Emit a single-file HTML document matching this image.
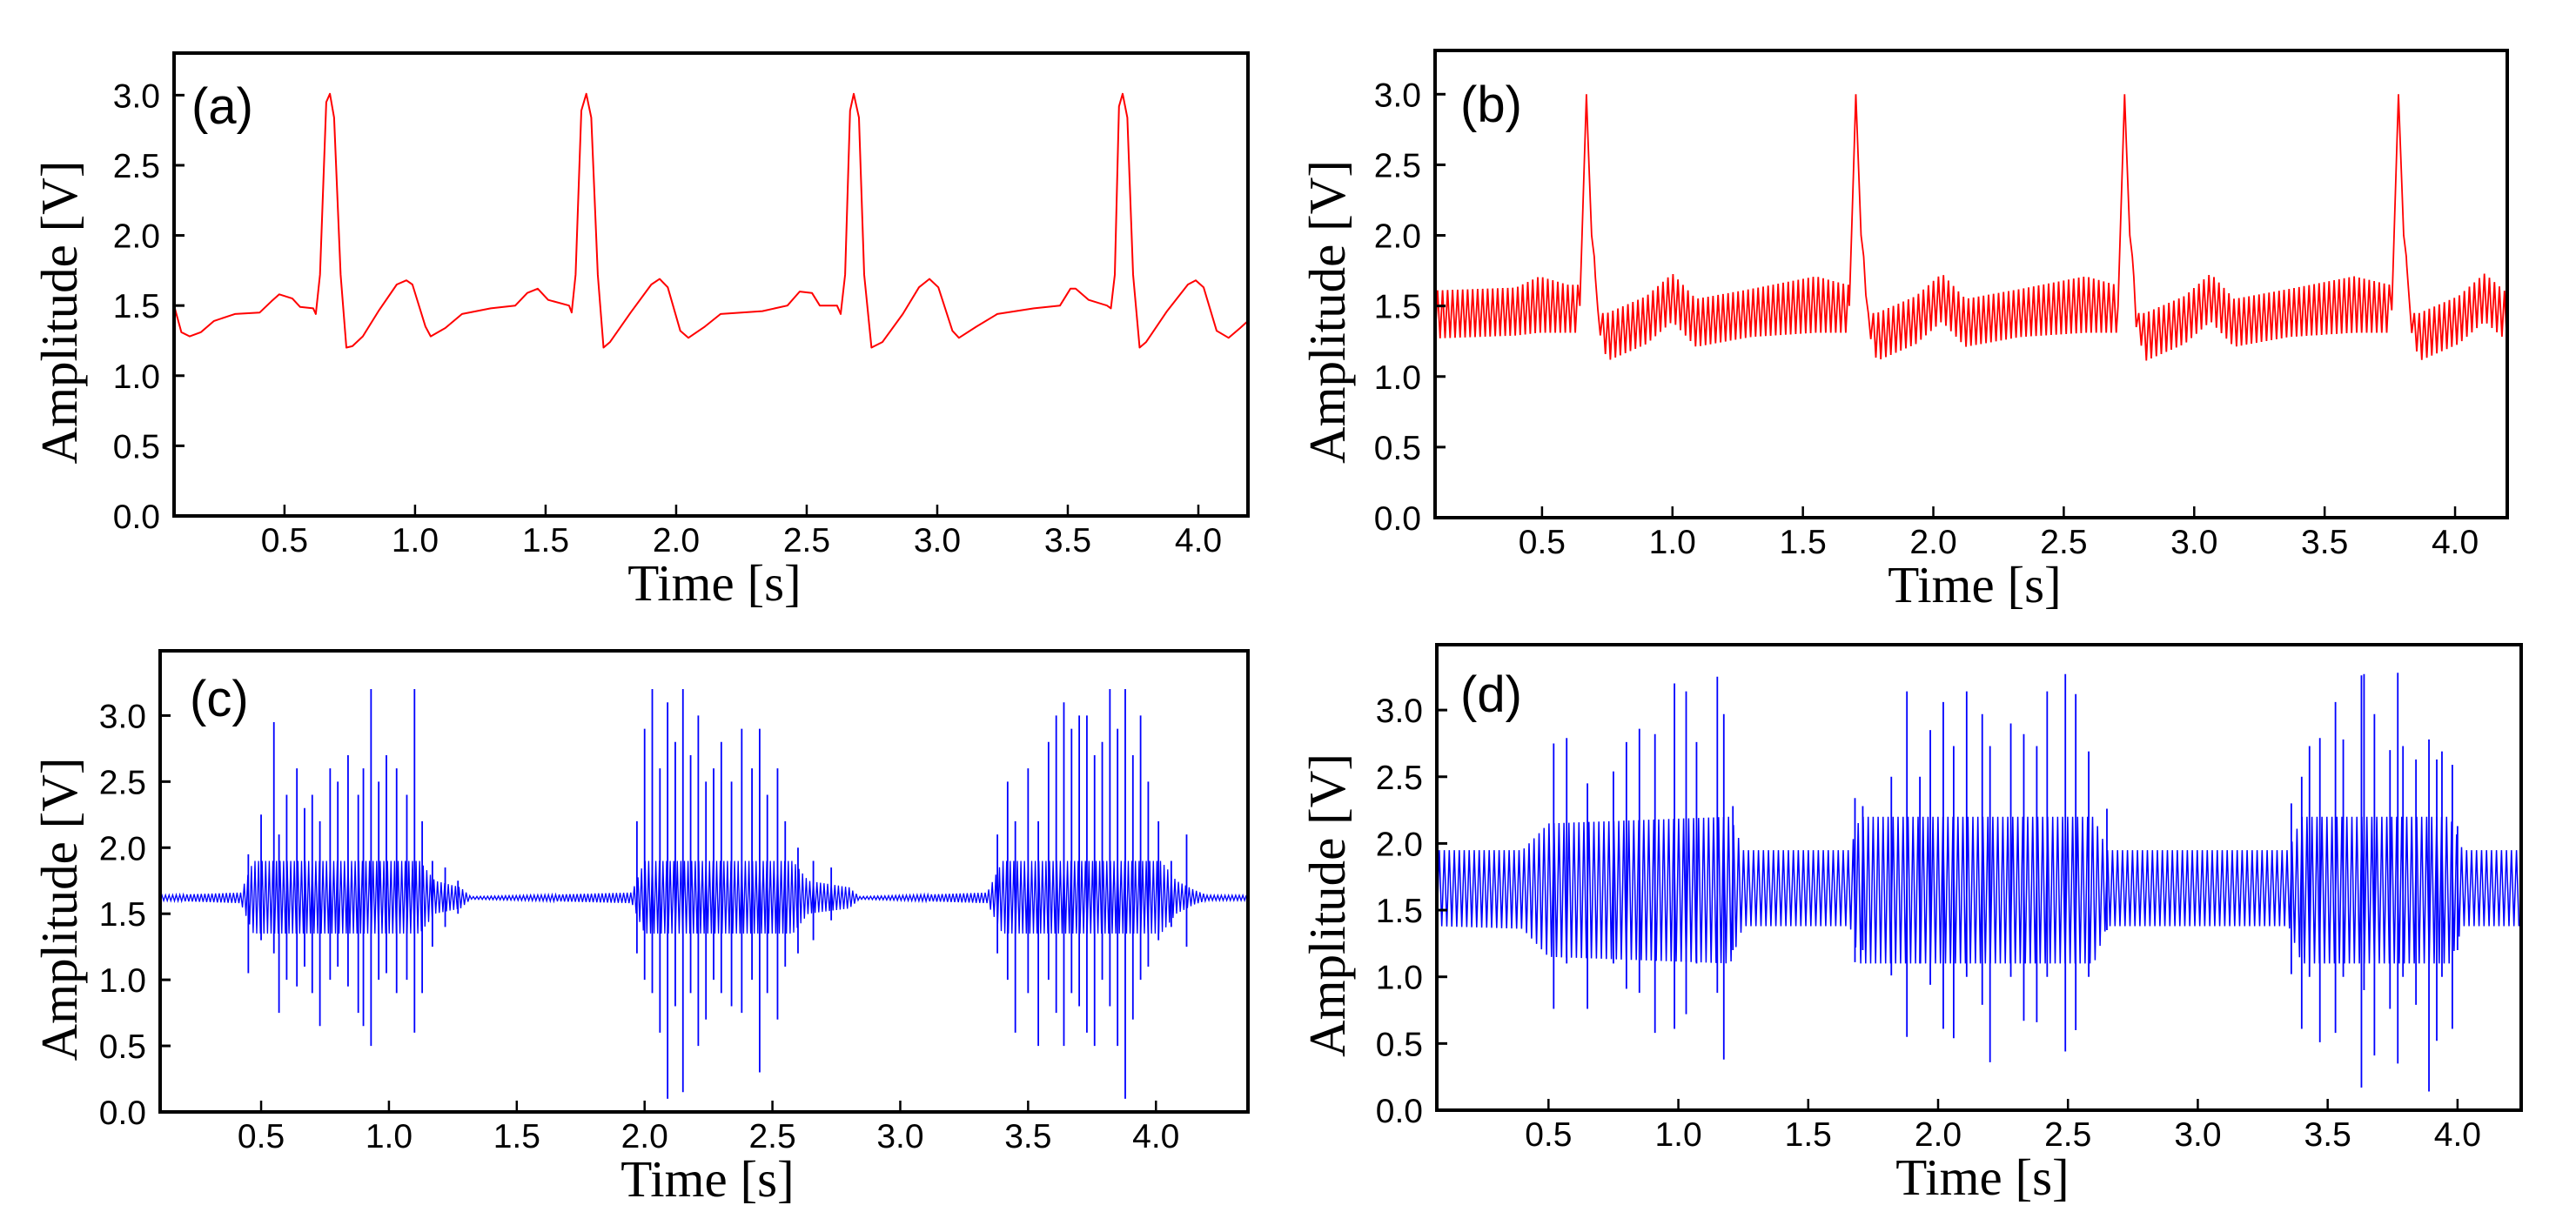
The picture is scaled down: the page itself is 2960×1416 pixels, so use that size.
<!DOCTYPE html>
<html><head><meta charset="utf-8"><style>
html,body{margin:0;padding:0;background:#fff;}
svg{display:block;}
.tick{font-family:"Liberation Sans","DejaVu Sans",sans-serif;font-size:39px;fill:#000;}
.ttl{font-family:"Liberation Serif","DejaVu Serif",serif;font-size:59px;fill:#000;}
.plab{font-family:"Liberation Sans","DejaVu Sans",sans-serif;font-size:58px;fill:#000;}
</style></head><body>
<svg id="fig" xmlns="http://www.w3.org/2000/svg" width="2960" height="1416" viewBox="0 0 2960 1416"></svg>
<script>
// ---------- Panel (a): clean ECG ----------
const aT=[0.077,0.105,0.137,0.18,0.23,0.31,0.405,0.45,0.48,0.53,0.56,0.61,0.62,0.636,0.66,0.674,0.69,0.715,0.737,0.76,0.80,0.86,0.93,0.967,0.99,1.04,1.06,1.116,1.18,1.29,1.384,1.43,1.47,1.51,1.59,1.60,1.615,1.637,1.656,1.675,1.70,1.722,1.747,1.826,1.905,1.937,1.968,2.016,2.047,2.11,2.17,2.33,2.426,2.473,2.52,2.55,2.616,2.63,2.647,2.666,2.68,2.70,2.72,2.748,2.79,2.868,2.93,2.97,3.004,3.058,3.083,3.15,3.23,3.37,3.47,3.51,3.53,3.58,3.65,3.665,3.68,3.696,3.71,3.728,3.75,3.775,3.80,3.88,3.96,3.99,4.02,4.07,4.116,4.16,4.19];
const aV=[1.5,1.31,1.28,1.31,1.39,1.44,1.45,1.53,1.58,1.55,1.49,1.48,1.44,1.72,2.95,3.01,2.84,1.72,1.20,1.21,1.28,1.46,1.65,1.68,1.65,1.35,1.28,1.34,1.44,1.48,1.50,1.59,1.62,1.54,1.50,1.45,1.72,2.89,3.01,2.84,1.72,1.20,1.24,1.45,1.65,1.69,1.63,1.32,1.27,1.35,1.44,1.46,1.50,1.60,1.59,1.50,1.50,1.44,1.72,2.89,3.01,2.84,1.72,1.20,1.24,1.44,1.63,1.69,1.63,1.32,1.27,1.35,1.44,1.48,1.50,1.62,1.62,1.54,1.50,1.48,1.72,2.92,3.01,2.84,1.72,1.20,1.24,1.46,1.65,1.68,1.63,1.32,1.27,1.34,1.39];

// ---------- Panel (b): ECG + power-line interference (centre + half-amplitude) ----------
const bT=[0.09,0.40,0.49,0.60,0.64,0.645,0.67,0.69,0.70,0.715,0.75,0.90,1.00,1.09,1.30,1.55,1.67,
 1.675,1.678,1.703,1.723,1.733,1.748,1.783,1.933,2.033,2.123,2.333,2.583,2.70,
 2.703,2.708,2.733,2.753,2.763,2.778,2.813,2.963,3.063,3.153,3.363,3.613,3.75,
 3.753,3.758,3.783,3.803,3.813,3.828,3.863,4.013,4.113,4.20];
const bC=[1.44,1.46,1.51,1.48,1.48,1.5,3.0,2.0,1.85,1.4,1.28,1.40,1.56,1.38,1.45,1.51,1.48,
 1.48,1.5,3.0,2.0,1.85,1.4,1.28,1.40,1.56,1.38,1.45,1.51,1.48,
 1.48,1.5,3.0,2.0,1.85,1.4,1.28,1.40,1.56,1.38,1.45,1.51,1.48,
 1.48,1.5,3.0,2.0,1.85,1.4,1.28,1.40,1.56,1.42];
const bH=[0.17,0.17,0.2,0.17,0.17,0,0,0,0,0.05,0.17,0.17,0.17,0.17,0.17,0.2,0.17,
 0.17,0,0,0,0,0.05,0.17,0.17,0.17,0.17,0.17,0.2,0.17,
 0.17,0,0,0,0,0.05,0.17,0.17,0.17,0.17,0.17,0.2,0.17,
 0.17,0,0,0,0,0.05,0.17,0.17,0.17,0.17];

// ---------- Panel (c): clean EMG ----------
const cEnvT=[0.105,0.42,0.47,1.12,1.18,1.28,1.32,1.95,2.0,2.58,2.64,2.8,2.84,3.34,3.40,4.02,4.08,4.15,4.20,4.36];
const cEnvHi=[1.64,1.66,1.9,1.9,1.75,1.70,1.63,1.66,1.9,1.9,1.75,1.70,1.63,1.66,1.9,1.9,1.75,1.68,1.64,1.64];
const cEnvLo=[1.60,1.58,1.35,1.35,1.5,1.54,1.61,1.58,1.35,1.35,1.5,1.54,1.61,1.58,1.35,1.35,1.5,1.57,1.60,1.60];
const cSpikeT=[0.45,0.50,0.55,0.57,0.60,0.64,0.67,0.70,0.73,0.77,0.80,0.84,0.88,0.90,0.93,0.96,0.99,1.03,1.07,1.10,1.13,1.17,1.22,1.27,
 1.97,2.00,2.03,2.06,2.09,2.12,2.15,2.18,2.21,2.24,2.27,2.30,2.34,2.38,2.42,2.45,2.48,2.52,2.55,2.60,2.66,2.73,
 3.38,3.42,3.45,3.50,3.54,3.58,3.61,3.64,3.67,3.70,3.73,3.76,3.79,3.82,3.85,3.88,3.91,3.94,3.97,4.01,4.06,4.12];
const cSpikeHi=[1.95,2.25,2.95,2.1,2.4,2.6,2.3,2.4,2.2,2.6,2.5,2.7,2.4,2.6,3.2,2.5,2.7,2.6,2.4,3.2,2.2,1.9,1.85,1.75,
 2.2,2.9,3.2,2.6,3.1,2.8,3.2,2.7,3.0,2.5,2.6,2.8,2.5,2.9,2.6,2.9,2.4,2.6,2.2,2.0,1.9,1.85,
 2.1,2.5,2.2,2.6,2.2,2.8,3.0,3.1,2.9,3.0,3.0,2.7,2.8,3.2,2.9,3.2,2.7,3.0,2.5,2.2,1.9,2.1];
const cSpikeLo=[1.05,1.3,1.2,0.75,1.0,0.95,1.1,0.9,0.65,1.0,1.1,0.95,0.75,0.65,0.5,1.0,1.05,0.9,1.0,0.6,0.9,1.25,1.4,1.5,
 1.2,1.0,0.9,0.6,0.1,0.8,0.15,0.9,0.5,0.7,1.0,0.9,0.8,0.75,1.0,0.3,0.9,0.7,1.1,1.2,1.3,1.45,
 1.2,1.0,0.6,0.9,0.5,1.0,0.75,0.5,0.9,0.8,0.6,0.5,1.0,0.8,0.5,0.1,0.7,1.0,1.1,1.3,1.4,1.25];

// ---------- Panel (d): EMG + interference ----------
const dEnvT=[0.07,0.40,0.50,1.20,1.25,1.66,1.70,2.60,2.65,3.35,3.40,3.97,4.02,4.245];
const dEnvHi=[1.95,1.95,2.15,2.2,1.95,1.95,2.2,2.2,1.95,1.95,2.2,2.2,1.95,1.95];
const dEnvLo=[1.38,1.36,1.15,1.1,1.38,1.38,1.1,1.1,1.38,1.38,1.1,1.1,1.38,1.38];
const dSpikeT=[0.52,0.57,0.65,0.75,0.80,0.85,0.91,0.985,1.03,1.07,1.15,1.175,1.21,
 1.68,1.71,1.82,1.88,1.93,1.97,2.02,2.06,2.11,2.17,2.20,2.28,2.33,2.38,2.42,2.49,2.53,2.58,2.65,
 3.36,3.40,3.43,3.47,3.53,3.56,3.63,3.64,3.68,3.74,3.77,3.79,3.84,3.89,3.92,3.94,3.98,4.0];
const dSpikeHi=[2.75,2.79,2.45,2.54,2.76,2.86,2.82,3.2,3.14,2.76,3.25,2.97,2.28,
 2.34,2.28,2.50,3.14,2.50,2.85,3.06,2.73,3.14,2.97,2.73,2.90,2.82,2.73,3.14,3.27,3.12,2.69,2.26,
 2.30,2.50,2.73,2.79,3.06,2.78,3.26,3.27,2.97,2.70,3.28,2.73,2.63,2.78,2.63,2.69,2.59,2.13];
const dSpikeLo=[0.76,1.1,0.76,1.1,0.91,0.88,0.58,0.61,0.72,1.1,0.88,0.38,1.20,
 1.11,1.2,1.01,0.55,1.1,0.94,0.61,0.54,1.0,0.79,0.36,1.0,0.67,0.66,1.0,0.44,0.60,1.0,1.35,
 1.02,0.61,1.0,0.51,0.58,1.0,0.17,0.9,0.41,0.76,0.35,1.0,0.79,0.14,0.52,1.0,0.61,1.2];

const xTicks=[0.5,1.0,1.5,2.0,2.5,3.0,3.5,4.0];
const xTickLabels=["0.5","1.0","1.5","2.0","2.5","3.0","3.5","4.0"];
const yTicks=[0,0.5,1.0,1.5,2.0,2.5,3.0];
const yTickLabels=["0.0","0.5","1.0","1.5","2.0","2.5","3.0"];

const NS="http://www.w3.org/2000/svg";
const fig=document.getElementById('fig');
function mk(tag,attrs,parent){const e=document.createElementNS(NS,tag);for(const k in attrs)e.setAttribute(k,attrs[k]);(parent||fig).appendChild(e);return e;}
function interp(T,V,t){if(t<=T[0])return V[0];for(let i=1;i<T.length;i++){if(t<=T[i]){const f=(t-T[i-1])/(T[i]-T[i-1]);return V[i-1]+f*(V[i]-V[i-1]);}}return V[V.length-1];}

function panel(id,L,R,Tp,B,xmin,xmax,ymin,ymax,label,labX,labY,titleBase){
  const g=mk('g',{});
  
  
  const sx=t=>L+(t-xmin)/(xmax-xmin)*(R-L);
  const sy=v=>B-(v-ymin)/(ymax-ymin)*(B-Tp);
  const cp=mk('clipPath',{id:'clip-'+id},g);
  mk('rect',{x:L,y:Tp,width:R-L,height:B-Tp},cp);
  const plot=mk('g',{'clip-path':'url(#clip-'+id+')'},g);
  
  
  xTicks.forEach((t,i)=>{
    const tk=mk('line',{x1:sx(t),x2:sx(t),y1:B,y2:B-13,stroke:'#000','stroke-width':2.5},g);
    
    
    const tx=mk('text',{x:sx(t),y:B+41,'text-anchor':'middle',class:'tick'},g);
    tx.textContent=xTickLabels[i];
    
    
  });
  yTicks.forEach((v,i)=>{
    const tk=mk('line',{x1:L,x2:L+12,y1:sy(v),y2:sy(v),stroke:'#000','stroke-width':3},g);
    
    
    const tx=mk('text',{x:L-16,y:sy(v)+14,'text-anchor':'end',class:'tick'},g);
    tx.textContent=yTickLabels[i];
    
    
  });
  const fr=mk('rect',{x:L,y:Tp,width:R-L,height:B-Tp,fill:'none',stroke:'#000','stroke-width':4},g);
  
  
  const lb=mk('text',{x:labX,y:labY,class:'plab'},g);
  lb.textContent=label;
  
  
  const xt=mk('text',{x:(L+R)/2+4,y:B+97,'text-anchor':'middle',class:'ttl'},g);
  xt.textContent='Time [s]';
  
  
  const cy=(Tp+B)/2+32;
  const yt=mk('text',{x:titleBase,y:cy,'text-anchor':'middle',class:'ttl',transform:'rotate(-90 '+titleBase+' '+cy+')'},g);
  yt.textContent='Amplitude [V]';
  
  
  return {sx,sy,plot,xmin,xmax};
}

function pathFrom(pts){return 'M'+pts.map(p=>p[0].toFixed(1)+','+p[1].toFixed(1)).join('L');}

// Panel a
const pa=panel('a',200,1434,61,593,0.077,4.19,0,3.30,'(a)',220,142,88);
{const pts=aT.map((t,i)=>[pa.sx(t),pa.sy(aV[i])]);
 const p=mk('path',{d:pathFrom(pts),fill:'none',stroke:'#ff0000','stroke-width':2,'stroke-linejoin':'round'},pa.plot);
 
 }

// Panel b
const pb=panel('b',1649,2881,58,595,0.09,4.2,0,3.31,'(b)',1678,140,1545);
{const ts=[];const step=0.0096;let k=0;
 for(let t=pb.xmin;t<=pb.xmax;t+=step){ts.push([t,(k++%2)?1:-1]);}
 bT.forEach((t,i)=>{if(bH[i]===0)ts.push([t,0]);});
 ts.sort((a,b)=>a[0]-b[0]);
 const pts=ts.map(([t,s])=>{const c=interp(bT,bC,t),h=interp(bT,bH,t);return [pb.sx(t),pb.sy(c+s*h)];});
 const p=mk('path',{d:pathFrom(pts),fill:'none',stroke:'#ff0000','stroke-width':1.8},pb.plot);
 
 }

// Panel c
const pc=panel('c',184,1434,748,1278,0.105,4.36,0,3.49,'(c)',218,823,88);
{const pts=[];const step=0.007;let k=0;
 for(let t=pc.xmin;t<=pc.xmax;t+=step){const hi=interp(cEnvT,cEnvHi,t),lo=interp(cEnvT,cEnvLo,t);pts.push([pc.sx(t),pc.sy((k++%2)?hi:lo)]);}
 const p=mk('path',{d:pathFrom(pts),fill:'none',stroke:'#0000ff','stroke-width':1.3},pc.plot);
 
 
 cSpikeT.forEach((t,i)=>{
   const s=mk('line',{x1:pc.sx(t),x2:pc.sx(t),y1:pc.sy(cSpikeHi[i]),y2:pc.sy(cSpikeLo[i]),stroke:'#0000ff','stroke-width':1.8},pc.plot);
   
   
 });}

// Panel d
const pd=panel('d',1651,2897,741,1276,0.07,4.245,0,3.49,'(d)',1678,818,1545);
{const pts=[];const step=0.0096;let k=0;
 for(let t=pd.xmin;t<=pd.xmax;t+=step){const hi=interp(dEnvT,dEnvHi,t),lo=interp(dEnvT,dEnvLo,t);pts.push([pd.sx(t),pd.sy((k++%2)?hi:lo)]);}
 const p=mk('path',{d:pathFrom(pts),fill:'none',stroke:'#0000ff','stroke-width':1.5},pd.plot);
 
 
 dSpikeT.forEach((t,i)=>{
   const s=mk('line',{x1:pd.sx(t),x2:pd.sx(t),y1:pd.sy(dSpikeHi[i]),y2:pd.sy(dSpikeLo[i]),stroke:'#0000ff','stroke-width':1.8},pd.plot);
   
   
 });}
</script>
</body></html>
